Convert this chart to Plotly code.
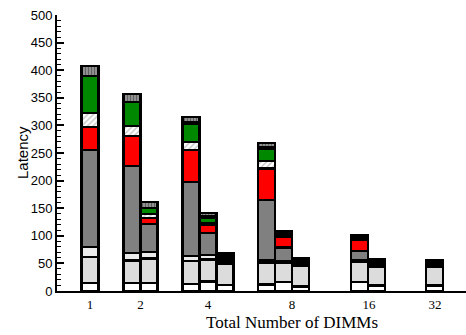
import plotly.graph_objects as go

# DIMM-count groups and how many configurations (bars) each group holds
dimm_groups = ["1", "2", "4", "8", "16", "32"]
bars_per_group = [1, 2, 3, 3, 2, 1]

# Latency components per bar, bottom to top of each stack
# (bars ordered: 1 | 2a 2b | 4a 4b 4c | 8a 8b 8c | 16a 16b | 32)
comp_base      = [14, 14, 15, 13, 17, 11, 12, 16, 8, 16, 10, 10]
comp_light     = [48, 41, 44, 41, 40, 39, 39, 35, 38, 36, 34, 34]
comp_lighter   = [18, 14, 12, 9, 8, 4, 4, 3, 3, 3, 3, 2]
comp_gray      = [175, 158, 50, 135, 40, 3, 110, 25, 3, 17, 3, 3]
comp_red       = [42, 54, 11, 57, 15, 3, 57, 20, 2, 20, 3, 2]
comp_hatched   = [25, 18, 7, 15, 3, 2, 14, 1, 1, 1, 1, 1]
comp_green     = [67, 44, 12, 33, 10, 2, 22, 4, 2, 4, 2, 2]
comp_blue      = [0, 0, 0, 2, 2, 1, 2, 3, 2, 1, 0, 2]
comp_top       = [18, 14, 10, 10, 6, 3, 8, 2, 1, 3, 2, 0]

# ---- layout geometry (x axis in plot-pixel units) ----
group_centers = [33, 83.5, 151, 226.5, 311, 377.5]
label_pos = [33, 83.5, 151, 235, 312, 378]
bar_w = 17

xpos = []
for c, n in zip(group_centers, bars_per_group):
    for j in range(n):
        xpos.append(c + (j - (n - 1) / 2) * bar_w)

series = [
    ("base", comp_base, dict(color="white")),
    ("light", comp_light, dict(color="#dcdcdc")),
    ("lighter", comp_lighter, dict(color="#ebebeb")),
    ("gray", comp_gray, dict(color="#808080")),
    ("red", comp_red, dict(color="#ff0000")),
    ("hatched", comp_hatched, dict(color="white",
                                   pattern=dict(shape="/", fgcolor="#8c8c8c", bgcolor="white",
                                                size=4, solidity=0.35))),
    ("green", comp_green, dict(color="#008800")),
    ("blue", comp_blue, dict(color="#0000ff")),
    ("top", comp_top, dict(color="#a0a0a0",
                           pattern=dict(shape="|", fgcolor="#202020", bgcolor="#a0a0a0",
                                        size=3, solidity=0.5))),
]

fig = go.Figure()
for name, vals, mk in series:
    mk = dict(mk)
    mk["line"] = dict(color="black", width=2.3)
    fig.add_trace(go.Bar(x=xpos, y=vals, width=bar_w, name=name, marker=mk,
                         showlegend=False))

plot_left, plot_w = 57, 409
plot_bottom, plot_h = 291, 276

fig.update_layout(
    width=466, height=335,
    margin=dict(l=plot_left, r=0, t=15, b=335 - plot_bottom),
    barmode="stack",
    plot_bgcolor="white", paper_bgcolor="white",
    xaxis=dict(range=[0, plot_w], showline=True, linecolor="black", linewidth=2,
               ticks="", tickvals=label_pos, ticktext=dimm_groups, showgrid=False,
               zeroline=False,
               tickfont=dict(family="Liberation Serif", size=13, color="black")),
    yaxis=dict(range=[0, 500], showline=True, linecolor="black", linewidth=2,
               ticks="inside", ticklen=7, tickwidth=1.5, tickcolor="black",
               dtick=50, showgrid=False, zeroline=False,
               minor=dict(ticks="inside", ticklen=4, dtick=10, tickwidth=1,
                          tickcolor="black", showgrid=False),
               tickfont=dict(family="Liberation Sans", size=13, color="black")),
    annotations=[
        dict(text="Total Number of DIMMs", xref="paper", yref="paper",
             x=(292 - plot_left) / plot_w, y=(plot_bottom - 322) / plot_h,
             xanchor="center", yanchor="middle", showarrow=False,
             font=dict(family="Liberation Serif", size=17, color="black")),
        dict(text="Latency", xref="paper", yref="paper", textangle=-90,
             x=(22 - plot_left) / plot_w, y=0.5,
             xanchor="center", yanchor="middle", showarrow=False,
             font=dict(family="Liberation Sans", size=15, color="black")),
    ],
)

fig.write_html("out.html")
